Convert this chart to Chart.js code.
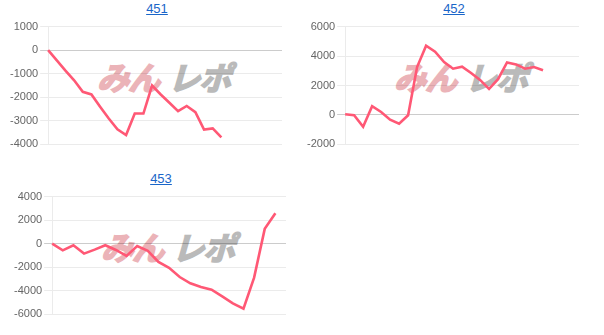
<!DOCTYPE html>
<html><head><meta charset="utf-8">
<script src="https://cdn.jsdelivr.net/npm/chart.js@4.4.1/dist/chart.umd.min.js"></script>
<style>
html,body{margin:0;padding:0;background:#fff;width:604px;height:335px;overflow:hidden;}
.cell{position:absolute;width:298px;height:165px;}
.title{position:absolute;left:0;top:1px;width:100%;text-align:center;font:13px "Liberation Sans",Arial,sans-serif;}
.title a{color:#1a66c9;text-decoration:underline;}
.wm{position:absolute;left:93px;top:60px;font-family:"Noto Sans CJK JP";font-weight:700;font-size:32px;line-height:1;white-space:nowrap;transform:skewX(-16deg);z-index:0;letter-spacing:-1px;}
.wm .p{color:#ebb3b8;-webkit-text-stroke:1.8px #ebb3b8;}
.wm .g{color:#bababa;-webkit-text-stroke:1.8px #bababa;margin-left:9px;}
.cv{position:absolute;left:0;top:18px;width:298px;height:135px;z-index:1;}
</style></head>
<body>
<div class="cell" style="left:8px;top:0px">
  <div class="title"><a href="#">451</a></div>
  <div class="wm"><span class="p">みん</span><span class="g">レポ</span></div>
  <div class="cv"><canvas id="c451"></canvas></div>
</div>
<div class="cell" style="left:305px;top:0px">
  <div class="title"><a href="#">452</a></div>
  <div class="wm"><span class="p">みん</span><span class="g">レポ</span></div>
  <div class="cv"><canvas id="c452"></canvas></div>
</div>
<div class="cell" style="left:12px;top:170px">
  <div class="title"><a href="#">453</a></div>
  <div class="wm"><span class="p">みん</span><span class="g">レポ</span></div>
  <div class="cv"><canvas id="c453"></canvas></div>
</div>
<script>
// x-axis category labels (hidden in the chart)
const labels451 = ['1','2','3','4','5','6','7','8','9','10','11','12','13','14','15','16','17','18','19','20','21','22','23','24','25','26','27','28'];
const labels452 = ['1','2','3','4','5','6','7','8','9','10','11','12','13','14','15','16','17','18','19','20','21','22','23','24','25','26','27'];
const labels453 = ['1','2','3','4','5','6','7','8','9','10','11','12','13','14','15','16','17','18','19','20','21','22','23'];

// series values
const values451 = [0,-430,-870,-1280,-1770,-1880,-2400,-2900,-3360,-3600,-2690,-2690,-1500,-1880,-2230,-2590,-2370,-2630,-3370,-3320,-3700];
const values452 = [50,-20,-800,590,200,-320,-590,-20,3250,4700,4300,3590,3140,3280,2850,2380,1770,2430,3570,3430,3140,3250,3030];
const values453 = [0,-560,-130,-840,-500,-130,-530,-1030,-200,-600,-1540,-2050,-2830,-3360,-3680,-3900,-4470,-5060,-5520,-2880,1260,2580];

// y-axis tick ranges [min, max, step]
const yRange451 = [-4000, 1000, 1000];
const yRange452 = [-2000, 6000, 2000];
const yRange453 = [-6000, 4000, 2000];

function makeChart(id, labels, values, yr){
  new Chart(document.getElementById(id), {
    type:'line',
    data:{labels:labels, datasets:[{data:values, borderColor:'rgb(255,88,117)', borderWidth:2.6, pointRadius:0, tension:0, fill:false}]},
    options:{
      responsive:true, maintainAspectRatio:false, animation:false,
      layout:{padding:{right:24,left:0,top:0,bottom:0}},
      plugins:{legend:{display:false}, tooltip:{enabled:false}},
      scales:{
        x:{ticks:{display:false}, grid:{display:false}, border:{display:false}},
        y:{min:yr[0], max:yr[1],
           ticks:{stepSize:yr[2], color:'#666', font:{size:11, family:'"Liberation Sans", Arial, sans-serif'}, padding:2,
                  callback:(v)=>String(v)},
           grid:{color:(c)=> (c.tick && c.tick.value===0) ? 'rgba(0,0,0,0.2)' : 'rgba(0,0,0,0.08)', tickLength:8, lineWidth:1},
           border:{display:true, color:'rgba(0,0,0,0.08)'}
        }
      }
    }
  });
}
makeChart('c451', labels451, values451, yRange451);
makeChart('c452', labels452, values452, yRange452);
makeChart('c453', labels453, values453, yRange453);
</script>
</body></html>
